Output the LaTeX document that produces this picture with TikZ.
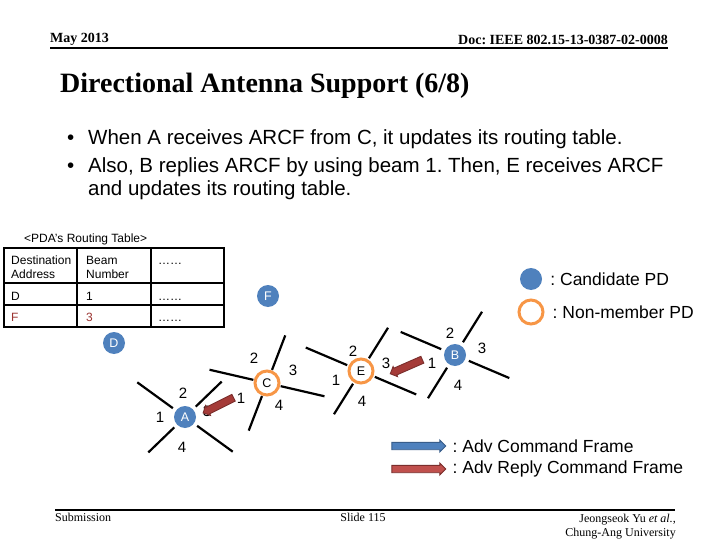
\documentclass[tikz,border=0pt]{standalone}
\usepackage{fontspec}
\setmainfont{Liberation Serif}
\setsansfont{Liberation Sans}
\usetikzlibrary{arrows.meta,shapes.arrows,positioning,calc}
\definecolor{pdblue}{HTML}{4F81BD}
\definecolor{pdorange}{HTML}{F79646}
\definecolor{cmdline}{HTML}{385D8A}
\definecolor{replyfill}{HTML}{C0504D}
\definecolor{replydark}{HTML}{A53B38}
\definecolor{replyline}{HTML}{7A2E2C}
\definecolor{rowred}{HTML}{9B3330}
\frenchspacing

% 四个波束 (节点, 角度1, 长度1, 角度2, 长度2, 内半径)
\newcommand{\beamcross}[6]{%
  \foreach \ang/\len in {#2/#3, #2+180/#3, #4/#5, #4+180/#5}
    \draw[beam] ($(#1)+(\ang:#6)$) -- ($(#1)+(\ang:\len)$);
}

\begin{document}
\begin{tikzpicture}[x=1pt,y=-1pt,
    candidate/.style={circle,fill=pdblue,text=white,minimum size=22pt,inner sep=0pt,
      font=\sffamily\fontsize{12.5}{12.5}\selectfont},
    nonmember/.style={circle,draw=pdorange,line width=3pt,fill=white,minimum size=24pt,
      inner sep=0pt,font=\sffamily\fontsize{12.5}{12.5}\selectfont},
    beam/.style={line width=2.2pt},
    beamno/.style={font=\sffamily\fontsize{15}{15}\selectfont,inner sep=0pt},
    cell/.style={anchor=base west,font=\sffamily\fontsize{12}{12}\selectfont,inner sep=0pt},
    tabline/.style={line width=1.6pt},
    arrowbase/.style={single arrow,inner sep=0pt,text depth=0pt,line width=0.9pt},
    replyarrow/.style={arrowbase,fill=replydark,draw=replyline,text height=6.5pt,
      single arrow head extend=1.8pt},
    cmdarrow/.style={arrowbase,fill=pdblue,draw=cmdline,text height=6.5pt,
      single arrow head extend=2.3pt},
    replylegend/.style={arrowbase,fill=replyfill,draw=replyline,text height=6.5pt,
      single arrow head extend=2.3pt},
    legend/.style={font=\sffamily\fontsize{17.5}{17.5}\selectfont,anchor=west,inner sep=0pt},
    bullet/.style={font=\sffamily\fontsize{20.5}{24}\selectfont,anchor=base west,inner sep=0pt},
    slidetxt/.style={font=\fontsize{12}{12}\selectfont,inner sep=0pt}
  ]
    % 页面
    \fill[white] (0,0) rectangle (720,540);
    \useasboundingbox (0,0) rectangle (720,540);

    % 页眉
    \node[font=\bfseries\fontsize{14}{14}\selectfont,anchor=base west,inner sep=0pt] (hdate) at (50,43) {May 2013};
    \node[font=\bfseries\fontsize{14}{14}\selectfont,anchor=base east,inner sep=0pt] (hdoc) at (668,45) {Doc: IEEE 802.15-13-0387-02-0008};
    \draw[line width=2pt] (50,48) -- (668,48);

    % 标题
    \node[font=\bfseries\fontsize{28}{28}\selectfont,anchor=base west,inner sep=0pt] (title) at (60,93) {Directional Antenna Support (6/8)};

    % 要点
    \node[bullet] (dot1) at (67,145) {•};
    \node[bullet] (txt1) at (88,145) {When A receives ARCF from C, it updates its routing table.};
    \node[bullet] (dot2) at (67,173) {•};
    \node[bullet] (txt2) at (88,173) {Also, B replies ARCF by using beam 1. Then, E receives ARCF};
    \node[bullet] (txt3) at (88,196) {and updates its routing table.};

    % 路由表
    \node[cell] (tabcap) at (24,242) {<PDA's Routing Table>};
    \draw[tabline] (4,248) rectangle (224,327);
    \draw[tabline] (4,283) -- (224,283);
    \draw[tabline] (4,305) -- (224,305);
    \draw[tabline] (77,248) -- (77,327);
    \draw[tabline] (151,248) -- (151,327);
    \node[cell] (h1a) at (11,264) {Destination};
    \node[cell] (h1b) at (11,278) {Address};
    \node[cell] (h2a) at (86,264) {Beam};
    \node[cell] (h2b) at (86,278) {Number};
    \node[cell] (h3) at (158,264) {……};
    \node[cell] (r1a) at (11,300) {D};
    \node[cell] (r1b) at (86,300) {1};
    \node[cell] (r1c) at (158,300) {……};
    \node[cell,text=rowred] (r2a) at (11,321) {F};
    \node[cell,text=rowred] (r2b) at (86,321) {3};
    \node[cell] (r2c) at (158,321) {……};

    % 节点
    \node[candidate] (F) at (268,296) {F};
    \node[candidate] (D) at (114,343) {D};
    \node[candidate] (A) at (185,417) {A};
    \node[nonmember] (C) at (267,383) {C};
    \node[nonmember] (E) at (361,371) {E};
    \node[candidate] (B) at (455,355) {B};

    % 波束
    \beamcross{A}{36}{59}{136}{51}{15}
    \beamcross{C}{13}{59}{111}{51}{14}
    \beamcross{E}{23}{60}{122}{51}{15}
    \beamcross{B}{23}{59}{122}{51}{15}

    % 波束编号
    \foreach \n/\dx/\dy in {1/-25/0, 2/-2/-24, 3/22/-6, 4/-3/30}
      \node[beamno] (A-\n) at ($(A)+(\dx,\dy)$) {\n};
    \foreach \n/\dx/\dy in {1/-26/15, 2/-13/-25, 3/26/-13, 4/12/22}
      \node[beamno] (C-\n) at ($(C)+(\dx,\dy)$) {\n};
    \foreach \n/\dx/\dy in {1/-25/9, 2/-8/-20, 3/25/-8, 4/1/30}
      \node[beamno] (E-\n) at ($(E)+(\dx,\dy)$) {\n};
    \foreach \n/\dx/\dy in {1/-23/8, 2/-5/-22, 3/27/-7, 4/3/30}
      \node[beamno] (B-\n) at ($(B)+(\dx,\dy)$) {\n};

    % ARCF
    \coordinate (CAtail) at ($(C)+(-32,14)$);
    \coordinate (CAhead) at ($(A)+(20,-5)$);
    \path (CAtail) -- (CAhead) node[replyarrow,midway,sloped,allow upside down,minimum height=34pt] (rCA) {};
    \coordinate (BEtail) at ($(B)+(-31,4)$);
    \coordinate (BEhead) at ($(E)+(31,2)$);
    \path (BEtail) -- (BEhead) node[replyarrow,midway,sloped,allow upside down,minimum height=35pt] (rBE) {};

    % 图例
    \node[candidate] (legcand) at (531,279) {};
    \node[legend,right=8pt of legcand] (legcandtxt) {: Candidate PD};
    \node[nonmember] (legnon) at (531,312) {};
    \node[legend,right=8pt of legnon] (legnontxt) {: Non-member PD};
    \node[cmdarrow,minimum height=54pt] (legcmd) at (417,446) {};
    \node[legend,right=6pt of legcmd] (legcmdtxt) {: Adv Command Frame};
    \node[replylegend,minimum height=54pt] (legrep) at (417,469) {};
    \node[legend,right=6pt of legrep] (legreptxt) {: Adv Reply Command Frame};

    % 页脚
    \draw[line width=1.8pt] (55,510) -- (675,510);
    \node[slidetxt,anchor=base west] (fsub) at (55,521) {Submission};
    \node[slidetxt,anchor=base] (fslide) at (363,521) {Slide 115};
    \node[slidetxt,anchor=base east] (fauth) at (676,522) {Jeongseok Yu \textit{et al.},};
    \node[slidetxt,anchor=base east] (funiv) at (676,536) {Chung-Ang University};
\end{tikzpicture}
\end{document}
